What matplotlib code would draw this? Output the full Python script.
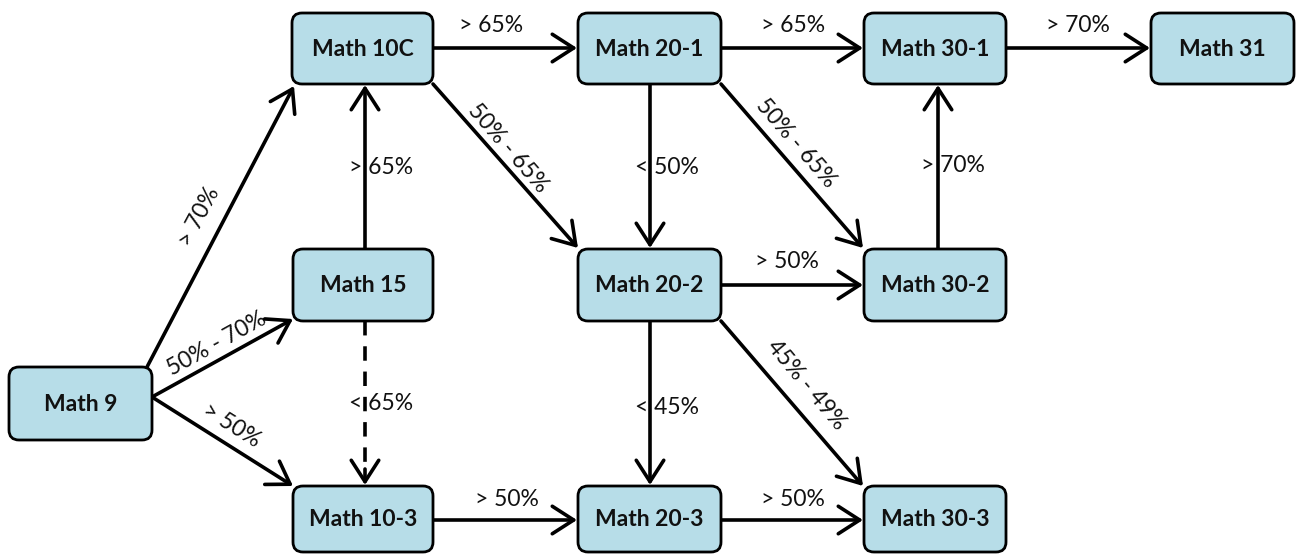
import matplotlib
matplotlib.use("Agg")
import matplotlib.pyplot as plt
from matplotlib.patches import FancyBboxPatch, FancyArrowPatch

# ---- data ----
courses = ["Math 9", "Math 10C", "Math 15", "Math 10-3", "Math 20-1", "Math 20-2",
           "Math 20-3", "Math 30-1", "Math 30-2", "Math 30-3", "Math 31"]
edge_src = ["Math 9", "Math 9", "Math 9", "Math 15", "Math 15", "Math 10C", "Math 10C",
            "Math 20-1", "Math 20-1", "Math 20-1", "Math 30-1", "Math 30-2", "Math 20-2",
            "Math 20-2", "Math 20-2", "Math 10-3", "Math 20-3"]
edge_dst = ["Math 10C", "Math 15", "Math 10-3", "Math 10C", "Math 10-3", "Math 20-1", "Math 20-2",
            "Math 30-1", "Math 20-2", "Math 30-2", "Math 31", "Math 30-1", "Math 30-2",
            "Math 20-3", "Math 30-3", "Math 20-3", "Math 30-3"]
edge_labels = ["> 70%", "50% - 70%", "> 50%", "> 65%", "< 65%", "> 65%", "50% - 65%",
               "> 65%", "< 50%", "50% - 65%", "> 70%", "> 70%", "> 50%",
               "< 45%", "45% - 49%", "> 50%", "> 50%"]
edge_dashed = [False, False, False, False, True, False, False, False, False, False,
               False, False, False, False, False, False, False]

# ---- layout (pixel boxes: x0, y0, x1, y1) ----
boxes = {
    "Math 9": (9, 367, 152, 440),
    "Math 10C": (292, 13, 433, 84),
    "Math 15": (293, 249, 433, 321),
    "Math 10-3": (293, 486, 433, 552),
    "Math 20-1": (578, 13, 721, 84),
    "Math 20-2": (578, 249, 721, 321),
    "Math 20-3": (578, 486, 721, 552),
    "Math 30-1": (864, 13, 1006, 84),
    "Math 30-2": (864, 249, 1006, 321),
    "Math 30-3": (864, 486, 1006, 552),
    "Math 31": (1151, 13, 1294, 84),
}
# arrow endpoints (start, end) in pixels
arrow_pts = [
    ((147, 367), (294, 86)),
    ((152, 397), (293, 319)),
    ((152, 397), (293, 486)),
    ((365, 249), (365, 85)),
    ((365, 321), (365, 485)),
    ((433, 48), (577, 48)),
    ((433, 84), (578, 248)),
    ((721, 48), (863, 48)),
    ((650, 84), (650, 248)),
    ((721, 84), (863, 248)),
    ((1006, 48), (1150, 48)),
    ((938, 249), (938, 85)),
    ((721, 285), (863, 285)),
    ((650, 321), (650, 485)),
    ((721, 321), (863, 486)),
    ((433, 520), (577, 520)),
    ((721, 520), (863, 520)),
]
label_pos = [
    (199, 217, 62), (217, 344, 29), (232, 425, -32), (381, 167, 0), (381, 404, 0),
    (491, 26, 0), (508, 148, -49), (793, 26, 0), (667, 167, 0), (796, 143, -49),
    (1078, 26, 0), (953, 165, 0), (787, 262, 0), (667, 407, 0), (806, 385, -50),
    (507, 500, 0), (793, 500, 0),
]

W, H = 1297, 554
fig = plt.figure(figsize=(W / 100, H / 100), dpi=100)
ax = fig.add_axes([0, 0, 1, 1])
ax.set_xlim(0, W)
ax.set_ylim(H, 0)
ax.axis("off")

FONT = "Lato"
HEAD = "->,head_length=7,head_width=4.5"

for name in courses:
    x0, y0, x1, y1 = boxes[name]
    r = 10
    p = FancyBboxPatch((x0 + r, y0 + r), (x1 - x0) - 2 * r, (y1 - y0) - 2 * r,
                       boxstyle=f"round,pad={r},rounding_size={r}",
                       facecolor="#B7DDE8", edgecolor="black", linewidth=2.0, zorder=3)
    ax.add_patch(p)
    ax.text((x0 + x1) / 2, (y0 + y1) / 2 + 1, name, ha="center", va="center",
            fontsize=16.5, fontweight="bold", family=FONT, color="#111111", zorder=4)

for i, (s, d) in enumerate(zip(edge_src, edge_dst)):
    (xa, ya), (xb, yb) = arrow_pts[i]
    if edge_dashed[i]:
        # dashed shaft, then a short solid segment carrying the head
        ax.plot([xa, xb], [ya, yb - 14], color="black", linewidth=2.6,
                linestyle=(0, (4, 3)), zorder=2, solid_capstyle="butt")
        arr = FancyArrowPatch((xb, yb - 16), (xb, yb), arrowstyle=HEAD,
                              mutation_scale=2.2, linewidth=2.6, color="black",
                              shrinkA=0, shrinkB=0, zorder=2)
    else:
        arr = FancyArrowPatch((xa, ya), (xb, yb), arrowstyle=HEAD,
                              mutation_scale=2.2, linewidth=2.6, color="black",
                              shrinkA=0, shrinkB=0, zorder=2)
    ax.add_patch(arr)
    lx, ly, rot = label_pos[i]
    ax.text(lx, ly, edge_labels[i], ha="center", va="center", rotation=rot,
            rotation_mode="anchor", fontsize=16.5, family=FONT, color="#111111", zorder=1)

fig.savefig("out.png", dpi=100, facecolor="white")
